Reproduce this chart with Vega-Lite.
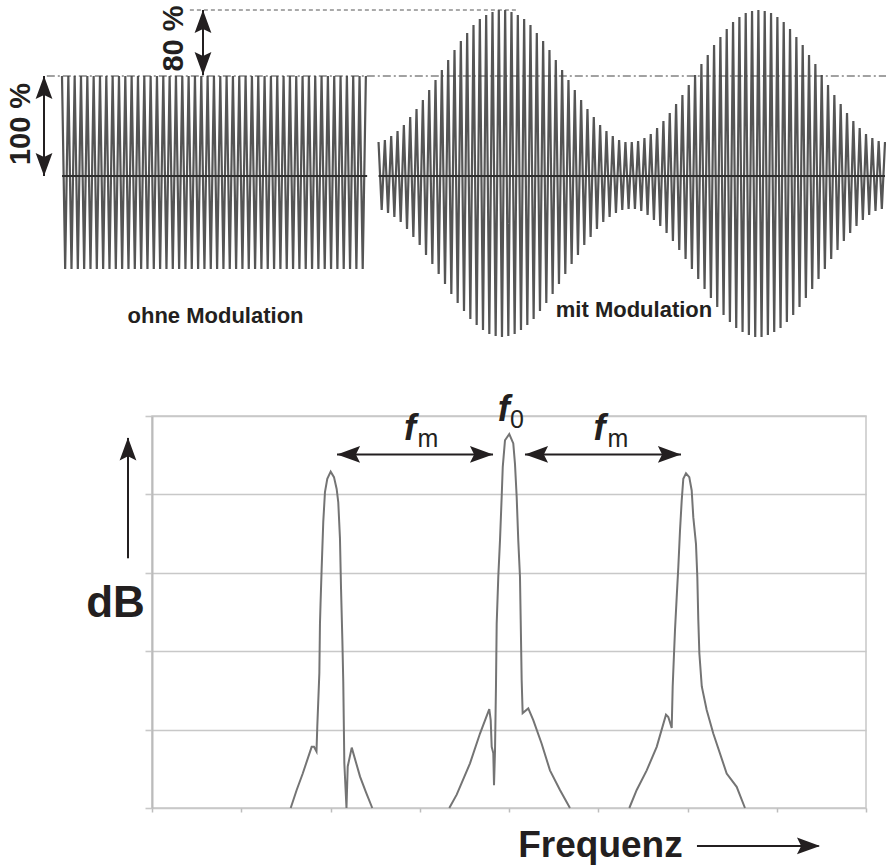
{
  "$schema": "https://vega.github.io/schema/vega-lite/v6.json",
  "width": 714,
  "height": 392,
  "autosize": {"type": "none"},
  "padding": {"left": 152, "top": 416, "right": 20, "bottom": 59},
  "background": "white",
  "config": {"view": {"stroke": "#c8c8c8", "strokeWidth": 1.5}, "font": "Liberation Sans"},
  "datasets": {
    "ohne": [
      {"t":0,"amp":100},{"t":0.5,"amp":-93},{"t":1,"amp":100},{"t":1.5,"amp":-93},{"t":2,"amp":100},{"t":2.5,"amp":-93},{"t":3,"amp":100},{"t":3.5,"amp":-93},{"t":4,"amp":100},{"t":4.5,"amp":-93},
      {"t":5,"amp":100},{"t":5.5,"amp":-93},{"t":6,"amp":100},{"t":6.5,"amp":-93},{"t":7,"amp":100},{"t":7.5,"amp":-93},{"t":8,"amp":100},{"t":8.5,"amp":-93},{"t":9,"amp":100},{"t":9.5,"amp":-93},
      {"t":10,"amp":100},{"t":10.5,"amp":-93},{"t":11,"amp":100},{"t":11.5,"amp":-93},{"t":12,"amp":100},{"t":12.5,"amp":-93},{"t":13,"amp":100},{"t":13.5,"amp":-93},{"t":14,"amp":100},{"t":14.5,"amp":-93},
      {"t":15,"amp":100},{"t":15.5,"amp":-93},{"t":16,"amp":100},{"t":16.5,"amp":-93},{"t":17,"amp":100},{"t":17.5,"amp":-93},{"t":18,"amp":100},{"t":18.5,"amp":-93},{"t":19,"amp":100},{"t":19.5,"amp":-93},
      {"t":20,"amp":100},{"t":20.5,"amp":-93},{"t":21,"amp":100},{"t":21.5,"amp":-93},{"t":22,"amp":100},{"t":22.5,"amp":-93},{"t":23,"amp":100},{"t":23.5,"amp":-93},{"t":24,"amp":100},{"t":24.5,"amp":-93},
      {"t":25,"amp":100},{"t":25.5,"amp":-93},{"t":26,"amp":100},{"t":26.5,"amp":-93},{"t":27,"amp":100},{"t":27.5,"amp":-93},{"t":28,"amp":100},{"t":28.5,"amp":-93},{"t":29,"amp":100},{"t":29.5,"amp":-93},
      {"t":30,"amp":100},{"t":30.5,"amp":-93},{"t":31,"amp":100},{"t":31.5,"amp":-93},{"t":32,"amp":100},{"t":32.5,"amp":-93},{"t":33,"amp":100},{"t":33.5,"amp":-93},{"t":34,"amp":100},{"t":34.5,"amp":-93},
      {"t":35,"amp":100},{"t":35.5,"amp":-93},{"t":36,"amp":100},{"t":36.5,"amp":-93},{"t":37,"amp":100},{"t":37.5,"amp":-93},{"t":38,"amp":100},{"t":38.5,"amp":-93},{"t":39,"amp":100},{"t":39.5,"amp":-93},
      {"t":40,"amp":100},{"t":40.5,"amp":-93},{"t":41,"amp":100},{"t":41.5,"amp":-93},{"t":42,"amp":100},{"t":42.5,"amp":-93},{"t":43,"amp":100},{"t":43.5,"amp":-93},{"t":44,"amp":100},{"t":44.5,"amp":-93},
      {"t":45,"amp":100},{"t":45.5,"amp":-93},{"t":46,"amp":100},{"t":46.5,"amp":-93},{"t":47,"amp":100},{"t":47.5,"amp":-93},{"t":48,"amp":100}
    ],
    "mit": [
      {"t":50,"amp":34},{"t":50.5,"amp":-34},{"t":51,"amp":36},{"t":51.5,"amp":-37},{"t":52,"amp":40},{"t":52.5,"amp":-41},{"t":53,"amp":45},{"t":53.5,"amp":-46},{"t":54,"amp":51},{"t":54.5,"amp":-53},
      {"t":55,"amp":59},{"t":55.5,"amp":-61},{"t":56,"amp":67},{"t":56.5,"amp":-69},{"t":57,"amp":76},{"t":57.5,"amp":-79},{"t":58,"amp":86},{"t":58.5,"amp":-88},{"t":59,"amp":96},{"t":59.5,"amp":-98},
      {"t":60,"amp":106},{"t":60.5,"amp":-108},{"t":61,"amp":116},{"t":61.5,"amp":-118},{"t":62,"amp":126},{"t":62.5,"amp":-127},{"t":63,"amp":135},{"t":63.5,"amp":-135},{"t":64,"amp":143},{"t":64.5,"amp":-143},
      {"t":65,"amp":151},{"t":65.5,"amp":-149},{"t":66,"amp":157},{"t":66.5,"amp":-154},{"t":67,"amp":161},{"t":67.5,"amp":-158},{"t":68,"amp":164},{"t":68.5,"amp":-160},{"t":69,"amp":166},{"t":69.5,"amp":-161},
      {"t":70,"amp":166},{"t":70.5,"amp":-160},{"t":71,"amp":164},{"t":71.5,"amp":-158},{"t":72,"amp":161},{"t":72.5,"amp":-154},{"t":73,"amp":157},{"t":73.5,"amp":-149},{"t":74,"amp":151},{"t":74.5,"amp":-143},
      {"t":75,"amp":143},{"t":75.5,"amp":-135},{"t":76,"amp":135},{"t":76.5,"amp":-127},{"t":77,"amp":126},{"t":77.5,"amp":-118},{"t":78,"amp":116},{"t":78.5,"amp":-108},{"t":79,"amp":106},{"t":79.5,"amp":-98},
      {"t":80,"amp":96},{"t":80.5,"amp":-88},{"t":81,"amp":86},{"t":81.5,"amp":-79},{"t":82,"amp":76},{"t":82.5,"amp":-69},{"t":83,"amp":67},{"t":83.5,"amp":-61},{"t":84,"amp":59},{"t":84.5,"amp":-53},
      {"t":85,"amp":51},{"t":85.5,"amp":-46},{"t":86,"amp":45},{"t":86.5,"amp":-41},{"t":87,"amp":40},{"t":87.5,"amp":-37},{"t":88,"amp":36},{"t":88.5,"amp":-34},{"t":89,"amp":34},{"t":89.5,"amp":-33},
      {"t":90,"amp":34},{"t":90.5,"amp":-33},{"t":91,"amp":35},{"t":91.5,"amp":-35},{"t":92,"amp":38},{"t":92.5,"amp":-39},{"t":93,"amp":42},{"t":93.5,"amp":-44},{"t":94,"amp":48},{"t":94.5,"amp":-50},
      {"t":95,"amp":55},{"t":95.5,"amp":-57},{"t":96,"amp":63},{"t":96.5,"amp":-65},{"t":97,"amp":72},{"t":97.5,"amp":-74},{"t":98,"amp":81},{"t":98.5,"amp":-83},{"t":99,"amp":91},{"t":99.5,"amp":-93},
      {"t":100,"amp":101},{"t":100.5,"amp":-103},{"t":101,"amp":112},{"t":101.5,"amp":-113},{"t":102,"amp":121},{"t":102.5,"amp":-122},{"t":103,"amp":131},{"t":103.5,"amp":-131},{"t":104,"amp":139},{"t":104.5,"amp":-139},
      {"t":105,"amp":147},{"t":105.5,"amp":-146},{"t":106,"amp":154},{"t":106.5,"amp":-152},{"t":107,"amp":159},{"t":107.5,"amp":-156},{"t":108,"amp":163},{"t":108.5,"amp":-159},{"t":109,"amp":165},{"t":109.5,"amp":-161},
      {"t":110,"amp":166},{"t":110.5,"amp":-161},{"t":111,"amp":165},{"t":111.5,"amp":-159},{"t":112,"amp":163},{"t":112.5,"amp":-156},{"t":113,"amp":159},{"t":113.5,"amp":-152},{"t":114,"amp":154},{"t":114.5,"amp":-146},
      {"t":115,"amp":147},{"t":115.5,"amp":-139},{"t":116,"amp":139},{"t":116.5,"amp":-131},{"t":117,"amp":131},{"t":117.5,"amp":-122},{"t":118,"amp":121},{"t":118.5,"amp":-113},{"t":119,"amp":112},{"t":119.5,"amp":-103},
      {"t":120,"amp":101},{"t":120.5,"amp":-93},{"t":121,"amp":91},{"t":121.5,"amp":-83},{"t":122,"amp":81},{"t":122.5,"amp":-74},{"t":123,"amp":72},{"t":123.5,"amp":-65},{"t":124,"amp":63},{"t":124.5,"amp":-57},
      {"t":125,"amp":55},{"t":125.5,"amp":-50},{"t":126,"amp":48},{"t":126.5,"amp":-44},{"t":127,"amp":42},{"t":127.5,"amp":-39},{"t":128,"amp":38},{"t":128.5,"amp":-35},{"t":129,"amp":35},{"t":129.5,"amp":-33},
      {"t":130,"amp":34}
    ],
    "nulllinien": [{"t0":0,"t1":48.2,"amp":0},{"t0":50,"t1":130,"amp":0}],
    "pegel100": [{"t0":-2.4,"t1":130.2,"amp":100}],
    "pegel180": [{"t0":20.2,"t1":72,"amp":166}],
    "pfeileOben": [{"t":-2.84,"a0":0,"a1":100},{"t":22.27,"a0":101,"a1":166}],
    "spitzenOben": [
      {"t":-2.84,"amp":100,"dir":"up"},{"t":-2.84,"amp":0,"dir":"down"},
      {"t":22.27,"amp":166,"dir":"up"},{"t":22.27,"amp":101,"dir":"down"}
    ],
    "prozent": [{"t":-6.48,"amp":52,"label":"100 %"},{"t":17.69,"amp":137.5,"label":"80 %"}],
    "titelOben": [{"t":24.25,"amp":-147,"label":"ohne Modulation"},{"t":90.35,"amp":-141,"label":"mit Modulation"}],
    "spektrum": [
      {"peak":"L","f":1.554,"db":0},{"peak":"L","f":1.621,"db":2.3},{"peak":"L","f":1.689,"db":4.4},{"peak":"L","f":1.789,"db":7.8},{"peak":"L","f":1.815,"db":7.8},{"peak":"L","f":1.843,"db":7.2},{"peak":"L","f":1.852,"db":10.4},{"peak":"L","f":1.875,"db":17.2},{"peak":"L","f":1.882,"db":23.5},{"peak":"L","f":1.888,"db":25.9},{"peak":"L","f":1.901,"db":30.6},{"peak":"L","f":1.919,"db":36.5},{"peak":"L","f":1.938,"db":40.3},{"peak":"L","f":1.964,"db":42.0},{"peak":"L","f":2.002,"db":42.9},{"peak":"L","f":2.039,"db":42.2},{"peak":"L","f":2.069,"db":40.7},{"peak":"L","f":2.087,"db":39.0},{"peak":"L","f":2.106,"db":34.4},{"peak":"L","f":2.118,"db":28.0},{"peak":"L","f":2.133,"db":21.4},{"peak":"L","f":2.143,"db":16.1},{"peak":"L","f":2.155,"db":5.7},{"peak":"L","f":2.179,"db":0},{"peak":"L","f":2.193,"db":5.3},{"peak":"L","f":2.238,"db":7.7},{"peak":"L","f":2.331,"db":4.0},{"peak":"L","f":2.398,"db":2.0},{"peak":"L","f":2.468,"db":0},
      {"peak":"C","f":3.331,"db":0},{"peak":"C","f":3.414,"db":1.7},{"peak":"C","f":3.563,"db":5.7},{"peak":"C","f":3.675,"db":9.5},{"peak":"C","f":3.779,"db":12.6},{"peak":"C","f":3.795,"db":11.2},{"peak":"C","f":3.806,"db":7.8},{"peak":"C","f":3.824,"db":7.0},{"peak":"C","f":3.832,"db":2.9},{"peak":"C","f":3.843,"db":7.2},{"peak":"C","f":3.854,"db":15.5},{"peak":"C","f":3.862,"db":23.5},{"peak":"C","f":3.880,"db":29.5},{"peak":"C","f":3.899,"db":34.1},{"peak":"C","f":3.918,"db":39.7},{"peak":"C","f":3.930,"db":43.5},{"peak":"C","f":3.955,"db":46.9},{"peak":"C","f":4.003,"db":47.7},{"peak":"C","f":4.048,"db":46.5},{"peak":"C","f":4.067,"db":43.9},{"peak":"C","f":4.086,"db":39.7},{"peak":"C","f":4.104,"db":34.1},{"peak":"C","f":4.123,"db":29.5},{"peak":"C","f":4.131,"db":24.0},{"peak":"C","f":4.142,"db":16.3},{"peak":"C","f":4.153,"db":12.1},{"peak":"C","f":4.216,"db":12.7},{"peak":"C","f":4.272,"db":11.2},{"peak":"C","f":4.366,"db":8.2},{"peak":"C","f":4.459,"db":4.8},{"peak":"C","f":4.571,"db":2.3},{"peak":"C","f":4.683,"db":0},
      {"peak":"R","f":5.348,"db":0},{"peak":"R","f":5.431,"db":2.3},{"peak":"R","f":5.543,"db":4.8},{"peak":"R","f":5.655,"db":7.8},{"peak":"R","f":5.759,"db":11.9},{"peak":"R","f":5.785,"db":11.6},{"peak":"R","f":5.823,"db":10.2},{"peak":"R","f":5.834,"db":15.5},{"peak":"R","f":5.849,"db":19.7},{"peak":"R","f":5.860,"db":22.7},{"peak":"R","f":5.879,"db":26.9},{"peak":"R","f":5.897,"db":30.7},{"peak":"R","f":5.916,"db":35.4},{"peak":"R","f":5.935,"db":39.2},{"peak":"R","f":5.953,"db":42.0},{"peak":"R","f":5.983,"db":42.7},{"peak":"R","f":6.020,"db":42.2},{"peak":"R","f":6.047,"db":40.5},{"peak":"R","f":6.065,"db":37.1},{"peak":"R","f":6.095,"db":33.7},{"peak":"R","f":6.110,"db":29.5},{"peak":"R","f":6.121,"db":24.0},{"peak":"R","f":6.133,"db":19.7},{"peak":"R","f":6.160,"db":15.5},{"peak":"R","f":6.215,"db":12.5},{"peak":"R","f":6.289,"db":9.5},{"peak":"R","f":6.439,"db":4.4},{"peak":"R","f":6.551,"db":2.7},{"peak":"R","f":6.644,"db":0}
    ],
    "pfeileUnten": [
      {"f0":2.073,"f1":3.821,"d0":45.1,"d1":45.1},
      {"f0":4.179,"f1":5.927,"d0":45.1,"d1":45.1},
      {"f0":-0.269,"f1":-0.269,"d0":31.85,"d1":47.2},
      {"f0":6.106,"f1":7.47,"d0":-4.84,"d1":-4.84}
    ],
    "spitzenUnten": [
      {"f":2.073,"db":45.1,"dir":"left"},{"f":3.821,"db":45.1,"dir":"right"},
      {"f":4.179,"db":45.1,"dir":"left"},{"f":5.927,"db":45.1,"dir":"right"},
      {"f":-0.269,"db":47.26,"dir":"up"},{"f":7.485,"db":-4.84,"dir":"right"}
    ],
    "fLabel": [{"f":2.89,"db":46.9,"label":"f"},{"f":5.015,"db":46.9,"label":"f"},{"f":3.94,"db":49.4,"label":"f"}],
    "fIndex": [{"f":3.09,"db":46.0,"label":"m"},{"f":5.22,"db":46.0,"label":"m"},{"f":4.09,"db":48.5,"label":"0"}],
    "dbLabel": [{"f":-0.409,"db":24.33,"label":"dB"}],
    "freqLabel": [{"f":5.025,"db":-6.24,"label":"Frequenz"}]
  },
  "resolve": {"scale": {"x": "independent", "y": "independent"}},
  "layer": [
    {
      "data": {"name": "spektrum"},
      "mark": {"type": "line", "stroke": "#747474", "strokeWidth": 2},
      "encoding": {
        "x": {"field": "f", "type": "quantitative", "scale": {"domain": [0, 8], "nice": false, "zero": false},
              "axis": {"orient": "bottom", "values": [0, 1, 2, 3, 4, 5, 6, 7, 8], "labels": false, "title": null, "grid": false, "domain": false, "ticks": true, "tickSize": 4, "tickColor": "#bdbdbd", "tickWidth": 1.5}},
        "y": {"field": "db", "type": "quantitative", "scale": {"domain": [0, 50], "nice": false, "zero": false},
              "axis": {"orient": "left", "values": [0, 10, 20, 30, 40, 50], "labels": false, "title": null, "grid": true, "gridColor": "#c8c8c8", "gridWidth": 1.6, "domain": true, "domainColor": "#bbbbbb", "domainWidth": 2, "ticks": true, "tickSize": 7, "tickColor": "#c8c8c8", "tickWidth": 1.6}},
        "detail": {"field": "peak"}
      }
    },
    {
      "data": {"name": "ohne"},
      "mark": {"type": "line", "stroke": "#555555", "strokeWidth": 2.2},
      "encoding": {
        "x": {"field": "t", "type": "quantitative", "scale": {"domain": [0, 130], "range": [-90, 733], "nice": false, "zero": false}, "axis": null},
        "y": {"field": "amp", "type": "quantitative", "scale": {"domain": [-100, 100], "range": [-140, -340], "nice": false, "zero": false}, "axis": null}
      }
    },
    {
      "data": {"name": "mit"},
      "mark": {"type": "line", "stroke": "#555555", "strokeWidth": 2.2},
      "encoding": {
        "x": {"field": "t", "type": "quantitative", "scale": {"domain": [0, 130], "range": [-90, 733], "nice": false, "zero": false}, "axis": null},
        "y": {"field": "amp", "type": "quantitative", "scale": {"domain": [-100, 100], "range": [-140, -340], "nice": false, "zero": false}, "axis": null}
      }
    },
    {
      "data": {"name": "nulllinien"},
      "mark": {"type": "rule", "stroke": "#2e2e2e", "strokeWidth": 2},
      "encoding": {
        "x": {"field": "t0", "type": "quantitative", "scale": {"domain": [0, 130], "range": [-90, 733], "nice": false, "zero": false}, "axis": null},
        "x2": {"field": "t1"},
        "y": {"field": "amp", "type": "quantitative", "scale": {"domain": [-100, 100], "range": [-140, -340], "nice": false, "zero": false}, "axis": null}
      }
    },
    {
      "data": {"name": "pegel100"},
      "mark": {"type": "rule", "stroke": "#444444", "strokeWidth": 1, "strokeDash": [8, 3, 2, 3]},
      "encoding": {
        "x": {"field": "t0", "type": "quantitative", "scale": {"domain": [0, 130], "range": [-90, 733], "nice": false, "zero": false}, "axis": null},
        "x2": {"field": "t1"},
        "y": {"field": "amp", "type": "quantitative", "scale": {"domain": [-100, 100], "range": [-140, -340], "nice": false, "zero": false}, "axis": null}
      }
    },
    {
      "data": {"name": "pegel180"},
      "mark": {"type": "rule", "stroke": "#555555", "strokeWidth": 1, "strokeDash": [4, 3]},
      "encoding": {
        "x": {"field": "t0", "type": "quantitative", "scale": {"domain": [0, 130], "range": [-90, 733], "nice": false, "zero": false}, "axis": null},
        "x2": {"field": "t1"},
        "y": {"field": "amp", "type": "quantitative", "scale": {"domain": [-100, 100], "range": [-140, -340], "nice": false, "zero": false}, "axis": null}
      }
    },
    {
      "data": {"name": "pfeileOben"},
      "mark": {"type": "rule", "stroke": "#231f20", "strokeWidth": 2},
      "encoding": {
        "x": {"field": "t", "type": "quantitative", "scale": {"domain": [0, 130], "range": [-90, 733], "nice": false, "zero": false}, "axis": null},
        "y": {"field": "a0", "type": "quantitative", "scale": {"domain": [-100, 100], "range": [-140, -340], "nice": false, "zero": false}, "axis": null},
        "y2": {"field": "a1"}
      }
    },
    {
      "data": {"name": "spitzenOben"},
      "mark": {"type": "point", "filled": true, "fill": "#231f20", "opacity": 1, "strokeWidth": 0, "size": 440},
      "encoding": {
        "x": {"field": "t", "type": "quantitative", "scale": {"domain": [0, 130], "range": [-90, 733], "nice": false, "zero": false}, "axis": null},
        "y": {"field": "amp", "type": "quantitative", "scale": {"domain": [-100, 100], "range": [-140, -340], "nice": false, "zero": false}, "axis": null},
        "shape": {"field": "dir", "type": "nominal", "legend": null, "scale": {"domain": ["up", "down", "left", "right"], "range": ["M0,0 L0.8,2.2 L0,1.8 L-0.8,2.2 Z", "M0,0 L0.8,-2.2 L0,-1.8 L-0.8,-2.2 Z", "M0,0 L2.2,0.8 L1.8,0 L2.2,-0.8 Z", "M0,0 L-2.2,0.8 L-1.8,0 L-2.2,-0.8 Z"]}}
      }
    },
    {
      "data": {"name": "prozent"},
      "mark": {"type": "text", "angle": 270, "align": "center", "baseline": "middle", "font": "Liberation Sans", "fontWeight": "bold", "fontSize": 29, "fill": "#231f20"},
      "encoding": {
        "x": {"field": "t", "type": "quantitative", "scale": {"domain": [0, 130], "range": [-90, 733], "nice": false, "zero": false}, "axis": null},
        "y": {"field": "amp", "type": "quantitative", "scale": {"domain": [-100, 100], "range": [-140, -340], "nice": false, "zero": false}, "axis": null},
        "text": {"field": "label"}
      }
    },
    {
      "data": {"name": "titelOben"},
      "mark": {"type": "text", "align": "center", "baseline": "alphabetic", "font": "Liberation Sans", "fontWeight": "bold", "fontSize": 22, "fill": "#231f20"},
      "encoding": {
        "x": {"field": "t", "type": "quantitative", "scale": {"domain": [0, 130], "range": [-90, 733], "nice": false, "zero": false}, "axis": null},
        "y": {"field": "amp", "type": "quantitative", "scale": {"domain": [-100, 100], "range": [-140, -340], "nice": false, "zero": false}, "axis": null},
        "text": {"field": "label"}
      }
    },
    {
      "data": {"name": "pfeileUnten"},
      "mark": {"type": "rule", "stroke": "#231f20", "strokeWidth": 2},
      "encoding": {
        "x": {"field": "f0", "type": "quantitative", "scale": {"domain": [0, 8], "nice": false, "zero": false}, "axis": null},
        "x2": {"field": "f1"},
        "y": {"field": "d0", "type": "quantitative", "scale": {"domain": [0, 50], "nice": false, "zero": false}, "axis": null},
        "y2": {"field": "d1"}
      }
    },
    {
      "data": {"name": "spitzenUnten"},
      "mark": {"type": "point", "filled": true, "fill": "#231f20", "opacity": 1, "strokeWidth": 0, "size": 440},
      "encoding": {
        "x": {"field": "f", "type": "quantitative", "scale": {"domain": [0, 8], "nice": false, "zero": false}, "axis": null},
        "y": {"field": "db", "type": "quantitative", "scale": {"domain": [0, 50], "nice": false, "zero": false}, "axis": null},
        "shape": {"field": "dir", "type": "nominal", "legend": null, "scale": {"domain": ["up", "down", "left", "right"], "range": ["M0,0 L0.8,2.2 L0,1.8 L-0.8,2.2 Z", "M0,0 L0.8,-2.2 L0,-1.8 L-0.8,-2.2 Z", "M0,0 L2.2,0.8 L1.8,0 L2.2,-0.8 Z", "M0,0 L-2.2,0.8 L-1.8,0 L-2.2,-0.8 Z"]}}
      }
    },
    {
      "data": {"name": "fLabel"},
      "mark": {"type": "text", "align": "center", "baseline": "alphabetic", "font": "Liberation Sans", "fontWeight": "bold", "fontStyle": "italic", "fontSize": 36, "fill": "#231f20"},
      "encoding": {
        "x": {"field": "f", "type": "quantitative", "scale": {"domain": [0, 8], "nice": false, "zero": false}, "axis": null},
        "y": {"field": "db", "type": "quantitative", "scale": {"domain": [0, 50], "nice": false, "zero": false}, "axis": null},
        "text": {"field": "label"}
      }
    },
    {
      "data": {"name": "fIndex"},
      "mark": {"type": "text", "align": "center", "baseline": "alphabetic", "font": "Liberation Sans", "fontWeight": "normal", "fontSize": 25, "fill": "#231f20"},
      "encoding": {
        "x": {"field": "f", "type": "quantitative", "scale": {"domain": [0, 8], "nice": false, "zero": false}, "axis": null},
        "y": {"field": "db", "type": "quantitative", "scale": {"domain": [0, 50], "nice": false, "zero": false}, "axis": null},
        "text": {"field": "label"}
      }
    },
    {
      "data": {"name": "dbLabel"},
      "mark": {"type": "text", "align": "center", "baseline": "alphabetic", "font": "Liberation Sans", "fontWeight": "bold", "fontSize": 44, "fill": "#231f20"},
      "encoding": {
        "x": {"field": "f", "type": "quantitative", "scale": {"domain": [0, 8], "nice": false, "zero": false}, "axis": null},
        "y": {"field": "db", "type": "quantitative", "scale": {"domain": [0, 50], "nice": false, "zero": false}, "axis": null},
        "text": {"field": "label"}
      }
    },
    {
      "data": {"name": "freqLabel"},
      "mark": {"type": "text", "align": "center", "baseline": "alphabetic", "font": "Liberation Sans", "fontWeight": "bold", "fontSize": 37, "fill": "#231f20"},
      "encoding": {
        "x": {"field": "f", "type": "quantitative", "scale": {"domain": [0, 8], "nice": false, "zero": false}, "axis": null},
        "y": {"field": "db", "type": "quantitative", "scale": {"domain": [0, 50], "nice": false, "zero": false}, "axis": null},
        "text": {"field": "label"}
      }
    }
  ]
}
